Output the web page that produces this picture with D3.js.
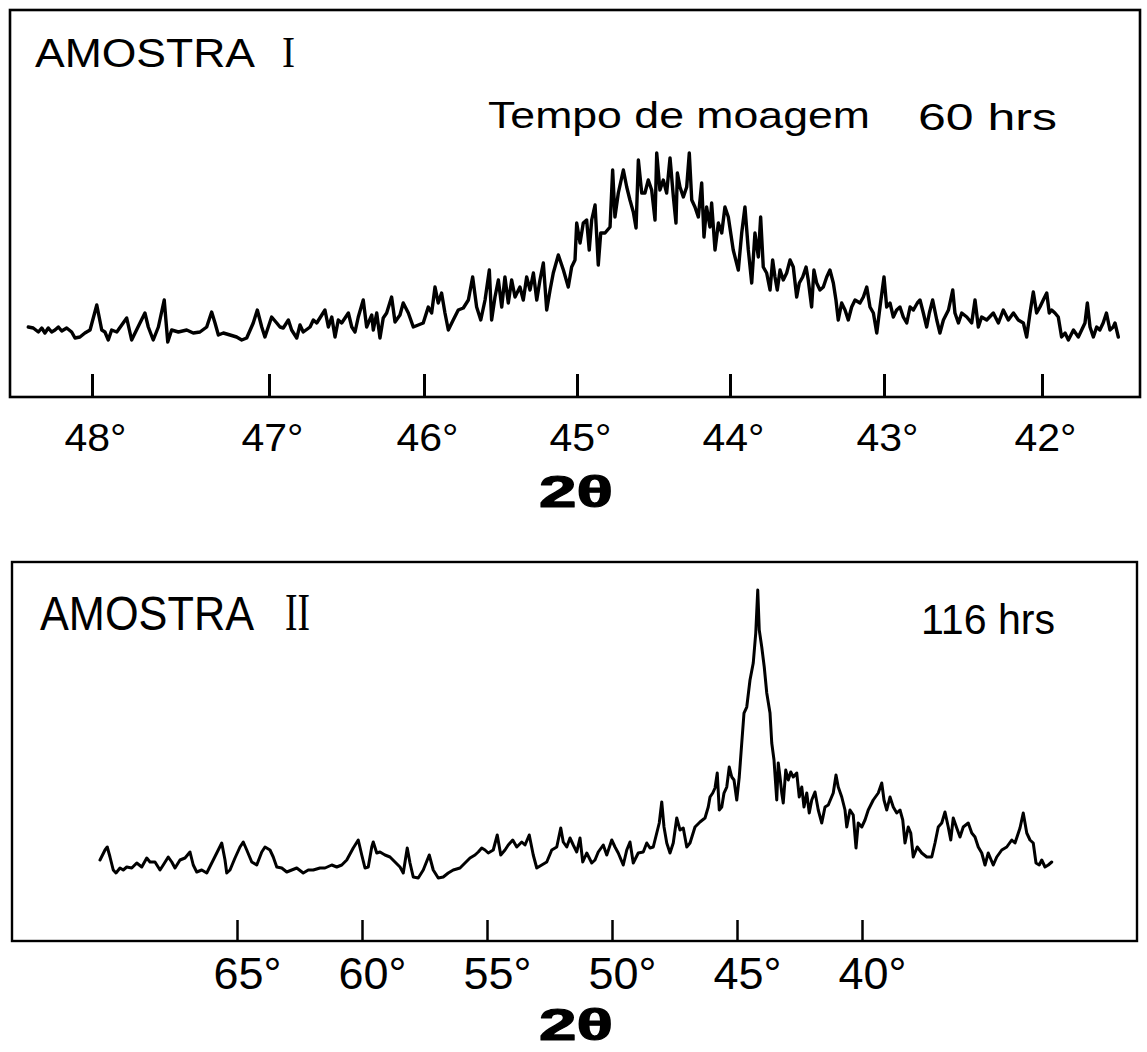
<!DOCTYPE html>
<html>
<head>
<meta charset="utf-8">
<script src="https://cdn.jsdelivr.net/npm/d3@7"></script>
<style>
  html, body { margin: 0; padding: 0; background: #fff; }
  svg { display: block; }
</style>
</head>
<body>
<svg id="fig" width="1147" height="1052"></svg>
<script>
// X-ray diffraction scans of two milled samples, 2θ in degrees vs. counts (arbitrary units)

// Sample I, 60 h milling: [2θ, counts]
const scanI = [
  [48.360,69],[48.332,68],[48.303,64],[48.284,68],[48.266,63],[48.247,68],[48.228,64],[48.209,66],
  [48.190,69],[48.171,65],[48.143,68],[48.115,64],[48.096,58],[48.068,59],[48.040,63],[48.011,66],
  [47.973,91],[47.945,66],[47.927,64],[47.908,56],[47.889,66],[47.860,64],[47.804,78],[47.776,56],
  [47.729,73],[47.701,83],[47.682,69],[47.654,56],[47.625,69],[47.592,96],[47.572,54],[47.550,66],
  [47.512,64],[47.465,66],[47.428,63],[47.390,64],[47.352,69],[47.324,84],[47.305,73],[47.286,61],
  [47.258,63],[47.220,61],[47.183,59],[47.154,56],[47.126,58],[47.089,73],[47.066,86],[47.041,69],
  [47.023,59],[46.983,79],[46.950,73],[46.929,69],[46.908,68],[46.875,76],[46.854,66],[46.821,58],
  [46.800,71],[46.779,64],[46.735,69],[46.714,76],[46.692,73],[46.639,86],[46.617,69],[46.595,79],
  [46.574,59],[46.553,76],[46.531,73],[46.488,83],[46.466,69],[46.445,64],[46.424,79],[46.392,96],
  [46.370,69],[46.337,81],[46.327,66],[46.305,83],[46.284,58],[46.263,78],[46.241,83],[46.209,99],
  [46.187,74],[46.155,81],[46.134,93],[46.101,83],[46.069,69],[46.037,71],[46.005,73],[45.972,89],
  [45.950,83],[45.928,109],[45.907,93],[45.885,103],[45.863,83],[45.841,66],[45.809,76],[45.776,86],
  [45.743,88],[45.710,96],[45.682,119],[45.656,89],[45.629,76],[45.601,96],[45.573,126],[45.558,76],
  [45.536,99],[45.514,116],[45.492,89],[45.471,119],[45.449,93],[45.427,116],[45.405,99],[45.373,109],
  [45.351,96],[45.329,119],[45.307,106],[45.285,123],[45.263,96],[45.242,116],[45.220,133],[45.198,86],
  [45.176,106],[45.155,123],[45.122,141],[45.089,126],[45.057,109],[45.035,129],[45.013,136],[45.002,173],
  [44.980,153],[44.959,173],[44.937,176],[44.920,146],[44.904,176],[44.882,191],[44.861,131],[44.845,163],
  [44.817,163],[44.784,169],[44.767,226],[44.752,179],[44.730,203],[44.697,226],[44.675,209],[44.654,196],
  [44.632,184],[44.614,168],[44.599,236],[44.577,203],[44.556,203],[44.534,216],[44.512,206],[44.490,176],
  [44.479,243],[44.458,206],[44.436,216],[44.414,203],[44.392,238],[44.370,199],[44.353,173],[44.344,223],
  [44.327,209],[44.305,199],[44.283,209],[44.266,243],[44.250,196],[44.229,189],[44.207,179],[44.185,213],
  [44.170,159],[44.153,189],[44.131,169],[44.120,193],[44.098,146],[44.076,173],[44.054,163],[44.033,189],
  [44.011,179],[43.979,146],[43.946,126],[43.924,163],[43.903,189],[43.881,146],[43.859,113],[43.838,163],
  [43.816,139],[43.801,179],[43.784,129],[43.762,123],[43.740,106],[43.723,136],[43.708,119],[43.693,106],
  [43.675,126],[43.654,116],[43.632,123],[43.610,136],[43.589,129],[43.567,99],[43.550,113],[43.528,119],
  [43.506,129],[43.492,116],[43.470,89],[43.455,126],[43.437,113],[43.416,106],[43.394,109],[43.372,119],
  [43.351,126],[43.329,113],[43.312,96],[43.297,76],[43.275,93],[43.253,86],[43.232,76],[43.210,89],
  [43.188,96],[43.156,93],[43.134,99],[43.112,109],[43.091,89],[43.069,83],[43.047,63],[43.026,89],
  [43.000,119],[42.983,89],[42.962,93],[42.941,79],[42.920,86],[42.899,89],[42.878,79],[42.856,73],
  [42.835,89],[42.814,86],[42.789,93],[42.772,96],[42.751,83],[42.730,69],[42.713,83],[42.692,96],
  [42.666,76],[42.646,63],[42.624,76],[42.592,86],[42.565,106],[42.551,83],[42.529,73],[42.508,83],
  [42.476,79],[42.445,73],[42.424,96],[42.403,69],[42.382,79],[42.350,76],[42.308,83],[42.276,73],
  [42.245,86],[42.213,76],[42.181,83],[42.150,76],[42.118,73],[42.097,59],[42.076,83],[42.055,104],
  [42.034,83],[42.013,89],[41.992,96],[41.970,103],[41.954,83],[41.939,86],[41.918,83],[41.897,79],
  [41.876,59],[41.854,63],[41.833,56],[41.801,66],[41.770,59],[41.749,66],[41.728,73],[41.713,93],
  [41.696,69],[41.675,59],[41.654,69],[41.634,66],[41.613,73],[41.592,83],[41.570,66],[41.549,69],
  [41.538,73],[41.517,59]
];

// Sample II, 116 h milling: [2θ, counts]
const scanII = [
  [70.48,80],[70.28,90],[70.19,93],[70.08,83],[69.95,70],[69.84,67],[69.68,72],[69.55,70],
  [69.41,73],[69.21,72],[69.01,77],[68.81,73],[68.61,82],[68.48,78],[68.28,78],[68.08,70],
  [67.95,75],[67.75,83],[67.61,78],[67.48,72],[67.28,80],[67.08,82],[66.88,88],[66.75,75],
  [66.61,68],[66.41,70],[66.21,67],[66.01,77],[65.81,87],[65.61,97],[65.48,80],[65.41,67],
  [65.28,70],[65.08,82],[64.88,93],[64.75,98],[64.61,90],[64.41,78],[64.21,75],[64.01,88],
  [63.88,93],[63.68,90],[63.55,83],[63.41,73],[63.21,72],[63.01,68],[62.81,70],[62.61,72],
  [62.35,67],[62.15,70],[61.95,70],[61.68,72],[61.48,72],[61.21,75],[61.01,73],[60.81,75],
  [60.61,80],[60.35,92],[60.15,100],[60.01,85],[59.88,72],[59.75,73],[59.61,93],[59.55,98],
  [59.41,87],[59.28,88],[59.08,85],[58.88,83],[58.68,78],[58.48,73],[58.35,67],[58.19,92],
  [58.08,77],[57.95,63],[57.75,62],[57.55,70],[57.31,85],[57.15,70],[56.95,62],[56.75,63],
  [56.55,67],[56.35,70],[56.08,72],[55.88,77],[55.68,82],[55.48,85],[55.35,88],[55.21,92],
  [55.08,90],[54.95,87],[54.75,90],[54.59,105],[54.45,85],[54.28,90],[54.15,95],[53.97,100],
  [53.81,93],[53.61,98],[53.48,95],[53.31,105],[53.15,85],[53.01,72],[52.81,75],[52.61,78],
  [52.41,90],[52.21,93],[52.05,112],[51.95,98],[51.81,93],[51.68,102],[51.55,95],[51.41,88],
  [51.28,102],[51.17,78],[51.01,87],[50.81,77],[50.68,80],[50.55,88],[50.35,95],[50.21,85],
  [50.01,100],[49.88,93],[49.75,87],[49.55,75],[49.41,90],[49.28,98],[49.15,77],[48.95,87],
  [48.75,88],[48.61,97],[48.48,92],[48.35,93],[48.21,107],[48.11,117],[48.01,138],[47.92,113],
  [47.81,97],[47.68,87],[47.55,97],[47.41,122],[47.28,110],[47.15,112],[47.01,93],[46.88,97],
  [46.68,113],[46.48,118],[46.28,122],[46.15,133],[46.08,143],[45.97,147],[45.88,152],[45.79,167],
  [45.71,130],[45.61,133],[45.52,147],[45.41,153],[45.31,173],[45.21,163],[45.12,160],[45.01,140],
  [44.91,163],[44.81,197],[44.72,227],[44.61,233],[44.48,260],[44.35,277],[44.25,307],[44.17,350],
  [44.11,310],[44.01,293],[43.91,273],[43.81,247],[43.68,227],[43.61,197],[43.52,180],[43.41,140],
  [43.35,177],[43.28,163],[43.21,147],[43.15,137],[43.05,170],[42.95,160],[42.85,168],[42.75,163],
  [42.61,167],[42.51,143],[42.41,153],[42.32,133],[42.21,147],[42.11,127],[42.01,140],[41.88,148],
  [41.75,130],[41.61,117],[41.48,133],[41.35,135],[41.15,147],[41.04,165],[40.95,153],[40.81,143],
  [40.68,130],[40.61,113],[40.48,130],[40.35,125],[40.24,92],[40.15,117],[40.01,113],[39.88,120],
  [39.75,130],[39.55,140],[39.35,147],[39.21,157],[39.12,140],[39.01,130],[38.88,143],[38.75,133],
  [38.61,127],[38.48,130],[38.37,120],[38.28,97],[38.15,113],[38.05,107],[37.95,83],[37.79,93],
  [37.61,87],[37.41,83],[37.21,83],[37.08,97],[36.95,113],[36.81,117],[36.68,128],[36.55,113],
  [36.45,100],[36.35,122],[36.21,112],[36.08,103],[35.95,113],[35.75,117],[35.61,107],[35.48,103],
  [35.35,93],[35.21,87],[35.08,75],[34.95,87],[34.75,75],[34.61,83],[34.41,90],[34.21,93],
  [34.01,100],[33.88,97],[33.68,112],[33.55,127],[33.41,107],[33.28,100],[33.15,97],[33.04,77],
  [32.91,75],[32.81,80],[32.68,73],[32.55,75],[32.41,78]
];

// Axis tick values (degrees 2θ)
const ticksI = [48, 47, 46, 45, 44, 43, 42];
const ticksII = [65, 60, 55, 50, 45, 40];

// Panel texts
const sampleI = ["AMOSTRA", "I"];
const sampleII = ["AMOSTRA", "II"];
const millingTitle = "Tempo de moagem";
const hoursI = "60 hrs";
const hoursII = "116 hrs";
const axisTitle = "2θ";

const svg = d3.select("#fig");
const SANS = "'Liberation Sans', Arial, Helvetica, sans-serif";
const SERIF = "'Liberation Serif', 'Times New Roman', serif";

// ---------- Panel I ----------
const boxI = { x0: 10, y0: 10, x1: 1140, y1: 397 };
// the recorder chart's angle scale is slightly non-uniform, so map each tick explicitly
const xI = d3.scaleLinear().domain(ticksI).range([92, 269, 424, 577, 730, 884, 1042]);
const yI = d3.scaleLinear().domain([0, 386]).range([396, 10]);

// ---------- Panel II ----------
const boxII = { x0: 12, y0: 562, x1: 1137, y1: 941 };
const xII = d3.scaleLinear().domain([65, 40]).range([237, 862]);
const yII = d3.scaleLinear().domain([0, 378]).range([940, 562]);

function frame(b, w) {
  svg.append("rect")
    .attr("x", b.x0).attr("y", b.y0)
    .attr("width", b.x1 - b.x0).attr("height", b.y1 - b.y0)
    .attr("fill", "none").attr("stroke", "#000").attr("stroke-width", w);
}

function trace(data, x, y, w) {
  const line = d3.line().x(d => x(d[0])).y(d => y(d[1]));
  svg.append("path")
    .datum(data)
    .attr("d", line)
    .attr("fill", "none")
    .attr("stroke", "#000")
    .attr("stroke-width", w)
    .attr("stroke-linejoin", "round")
    .attr("stroke-linecap", "round");
}

function axis(x, ticks, yBase, opt) {
  const ax = d3.axisBottom(x)
    .tickValues(ticks)
    .tickSizeInner(-opt.tick)
    .tickSizeOuter(0)
    .tickPadding(opt.pad)
    .tickFormat(d => d + "°");
  const g = svg.append("g").attr("transform", `translate(0,${yBase})`).call(ax);
  g.select(".domain").remove();
  g.selectAll(".tick line").attr("stroke", "#000").attr("stroke-width", opt.tickW);
  g.selectAll(".tick text")
    .attr("fill", "#000")
    .attr("font-family", SANS)
    .attr("font-size", opt.fs)
    .attr("dx", opt.dx)
    .attr("textLength", opt.len)
    .attr("lengthAdjust", "spacingAndGlyphs");
}

function label(txt, x, y, fs, opt = {}) {
  const t = svg.append("text")
    .attr("x", x).attr("y", y)
    .attr("font-family", opt.family || SANS)
    .attr("font-size", fs)
    .attr("font-weight", opt.weight || "normal")
    .attr("text-anchor", opt.anchor || "start")
    .attr("fill", "#000")
    .text(txt);
  if (opt.len) t.attr("textLength", opt.len).attr("lengthAdjust", "spacingAndGlyphs");
  if (opt.stroke) t.attr("stroke", "#000").attr("stroke-width", opt.stroke).attr("stroke-linejoin", "round");
  return t;
}

// sample name with a serif roman numeral, kept in one text element
function sampleName(parts, x, y, fs, len, gap, fsNum, lenNum) {
  const t = svg.append("text")
    .attr("x", x).attr("y", y)
    .attr("fill", "#000");
  t.append("tspan")
    .attr("font-family", SANS)
    .attr("font-size", fs)
    .attr("textLength", len)
    .attr("lengthAdjust", "spacingAndGlyphs")
    .text(parts[0]);
  t.append("tspan")
    .attr("x", x + len + gap)
    .attr("font-family", SERIF)
    .attr("font-size", fsNum)
    .attr("textLength", lenNum)
    .attr("lengthAdjust", "spacingAndGlyphs")
    .text(parts[1]);
}

// Panel I
frame(boxI, 2.6);
trace(scanI, xI, yI, 3.4);
axis(xI, ticksI, boxI.y1, { tick: 23, pad: 27, fs: 38, dx: 3, len: 62, tickW: 3 });
sampleName(sampleI, 35, 67, 40, 220, 27, 44, 13);
label(millingTitle, 488, 128, 36, { len: 382 });
label(hoursI, 918, 130, 36, { len: 139 });
label(axisTitle, 576, 507, 44, { anchor: "middle", weight: "bold", len: 74, stroke: 1.2 });

// Panel II
frame(boxII, 2.4);
trace(scanII, xII, yII, 3);
axis(xII, ticksII, boxII.y1, { tick: 21, pad: 17, fs: 44, dx: 10, len: 68, tickW: 2.5 });
sampleName(sampleII, 40, 630, 49, 214, 31, 52, 25);
label(hoursII, 921, 634, 42, { len: 134 });
label(axisTitle, 576, 1040, 44, { anchor: "middle", weight: "bold", len: 74, stroke: 1.2 });
</script>
</body>
</html>
